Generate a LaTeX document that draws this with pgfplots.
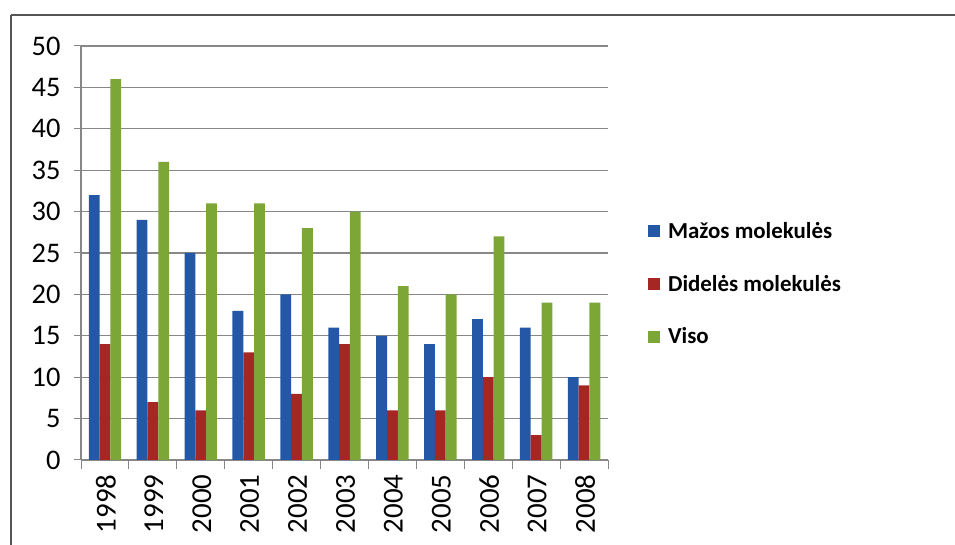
\documentclass[border=0pt]{standalone}
\usepackage{pgfplots}
\pgfplotsset{compat=1.18}
\usepackage{fontspec}
\setmainfont{Carlito}

\definecolor{serA}{RGB}{36,88,166}
\definecolor{serB}{RGB}{166,38,36}
\definecolor{serC}{RGB}{124,166,54}
\definecolor{gridc}{RGB}{135,135,135}
\definecolor{framec}{RGB}{85,85,85}

\begin{document}
\begin{tikzpicture}[x=1bp,y=1bp]
  \path[use as bounding box] (0,0) rectangle (955,545);
  % outer frame (top and left edges)
  \draw[framec, line width=2.2bp] (11,530) -- (955,530);
  \draw[framec, line width=2.2bp] (11,0) -- (11,530);
  \begin{axis}[
    at={(81bp,85bp)}, anchor=south west,
    scale only axis,
    width=527bp, height=414bp,
    ybar=0pt, bar width=10.8bp,
    xmin=-0.5, xmax=10.5,
    ymin=0, ymax=50,
    ytick={0,5,...,50},
    xtick={0,...,10},
    xticklabels={1998,1999,2000,2001,2002,2003,2004,2005,2006,2007,2008},
    minor xtick={-0.5,0.5,...,10.5},
    major x tick style={draw=none},
    minor x tick style={gridc, line width=1bp},
    y tick style={gridc, line width=1bp},
    tick align=outside,
    major tick length=7bp,
    minor tick length=9bp,
    xtick pos=bottom, ytick pos=left,
    ymajorgrids,
    grid style={gridc, line width=1.2bp},
    axis x line*=bottom, axis y line*=left,
    axis line style={gridc, line width=1.2bp},
    y axis line style={-}, x axis line style={-},
    xticklabel style={rotate=90, anchor=east, font=\fontsize{29}{30}\selectfont, yshift=-1bp},
    yticklabel style={font=\fontsize{28.5}{30}\selectfont, xshift=-10bp},
    /pgf/number format/assume math mode=true,
    xticklabel shift=4bp,
    legend style={at={(1.07,0.425)}, anchor=west, draw=none, fill=none,
      font=\fontsize{23}{26}\selectfont\bfseries,
      row sep=31bp, cells={anchor=west},
      /tikz/every even column/.append style={column sep=0bp}},
    legend image code/.code={\fill[#1] (0bp,-6bp) rectangle (12bp,6bp);},
    every axis plot/.append style={draw=none},
  ]
    \addplot[fill=serA] coordinates {(0,32) (1,29) (2,25) (3,18) (4,20) (5,16) (6,15) (7,14) (8,17) (9,16) (10,10)};
    \addplot[fill=serB] coordinates {(0,14) (1,7) (2,6) (3,13) (4,8) (5,14) (6,6) (7,6) (8,10) (9,3) (10,9)};
    \addplot[fill=serC] coordinates {(0,46) (1,36) (2,31) (3,31) (4,28) (5,30) (6,21) (7,20) (8,27) (9,19) (10,19)};
    \legend{\hspace{6bp}Mažos molekulės, \hspace{6bp}Didelės molekulės, \hspace{6bp}Viso}
  \end{axis}
\end{tikzpicture}
\end{document}
